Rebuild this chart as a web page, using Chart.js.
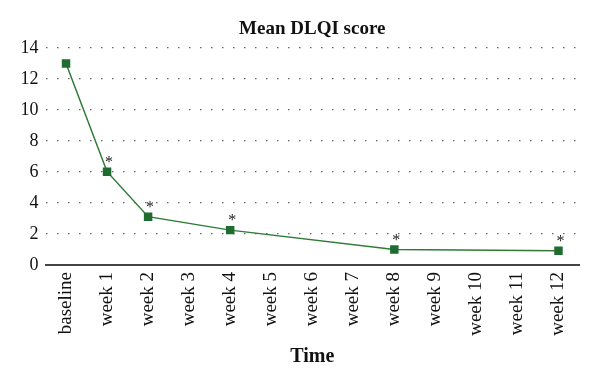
<!DOCTYPE html>
<html>
<head>
<meta charset="utf-8">
<script src="https://cdn.jsdelivr.net/npm/chart.js@4"></script>
<style>
  html, body { margin: 0; padding: 0; background: #fff; }
  #wrap { width: 600px; height: 383px; }
</style>
</head>
<body>
<div id="wrap"><canvas id="dlqiChart" width="600" height="383"></canvas></div>
<script>
// data
const timeLabels = ['baseline', 'week 1', 'week 2', 'week 3', 'week 4', 'week 5', 'week 6',
    'week 7', 'week 8', 'week 9', 'week 10', 'week 11', 'week 12'];
const meanDlqi = [13, 6.02, 3.12, null, 2.25, null, null, null, 1.0, null, null, null, 0.92];
const significant = [false, true, true, false, true, false, false, false, true, false, false, false, true];
const yTicks = [0, 2, 4, 6, 8, 10, 12, 14];

const serif = '"Liberation Serif", "DejaVu Serif", serif';
const green = '#2f7a35';
const markerGreen = '#1f6b30';

// title centred over the plot area + asterisks above significant points
const extrasPlugin = {
    id: 'extras',
    afterDraw(chart) {
        const ctx = chart.ctx;
        const area = chart.chartArea;
        ctx.save();
        ctx.fillStyle = '#111';
        ctx.font = 'bold 19px ' + serif;
        ctx.textAlign = 'center';
        ctx.textBaseline = 'middle';
        ctx.fillText('Mean DLQI score', (area.left + area.right) / 2, 29);

        const meta = chart.getDatasetMeta(0);
        ctx.font = '16px ' + serif;
        ctx.fillStyle = '#222';
        significant.forEach((flag, i) => {
            if (!flag || meanDlqi[i] === null) return;
            const pt = meta.data[i];
            ctx.fillText('*', pt.x + 2, pt.y - 9);
        });
        ctx.restore();
    }
};

new Chart(document.getElementById('dlqiChart'), {
    type: 'line',
    data: {
        labels: timeLabels,
        datasets: [{
            data: meanDlqi,
            borderColor: green,
            borderWidth: 1.5,
            backgroundColor: markerGreen,
            pointStyle: 'rect',
            pointRadius: 6,
            pointBorderColor: markerGreen,
            pointBorderWidth: 0,
            spanGaps: true,
            tension: 0
        }]
    },
    options: {
        responsive: false,
        animation: false,
        layout: { padding: { top: 48, right: 21, bottom: 0, left: 0 } },
        plugins: {
            legend: { display: false },
            tooltip: { enabled: false },
            title: { display: false }
        },
        scales: {
            x: {
                offset: true,
                afterFit(scale) { scale.height = 118; },
                grid: { display: false, drawTicks: false },
                border: { display: true, color: '#444', width: 2 },
                ticks: {
                    maxRotation: 90,
                    minRotation: 90,
                    autoSkip: false,
                    padding: 7,
                    color: '#111',
                    font: { family: serif, size: 19 }
                },
                title: {
                    display: true,
                    text: 'Time',
                    color: '#111',
                    padding: { top: 0, bottom: 14 },
                    font: { family: serif, size: 20, weight: 'bold' }
                }
            },
            y: {
                min: 0,
                max: 14,
                afterFit(scale) { scale.width = 45.5; },
                afterBuildTicks(scale) {
                    scale.ticks = yTicks.map(v => ({ value: v }));
                },
                grid: {
                    drawTicks: false,
                    lineWidth: 1.2,
                    color: (c) => (c.tick && c.tick.value === 0) ? 'rgba(0,0,0,0)' : '#666'
                },
                border: { display: false, dash: [1.5, 9.5] },
                ticks: {
                    padding: 7,
                    color: '#111',
                    font: { family: serif, size: 18 }
                }
            }
        }
    },
    plugins: [extrasPlugin]
});
</script>
</body>
</html>
